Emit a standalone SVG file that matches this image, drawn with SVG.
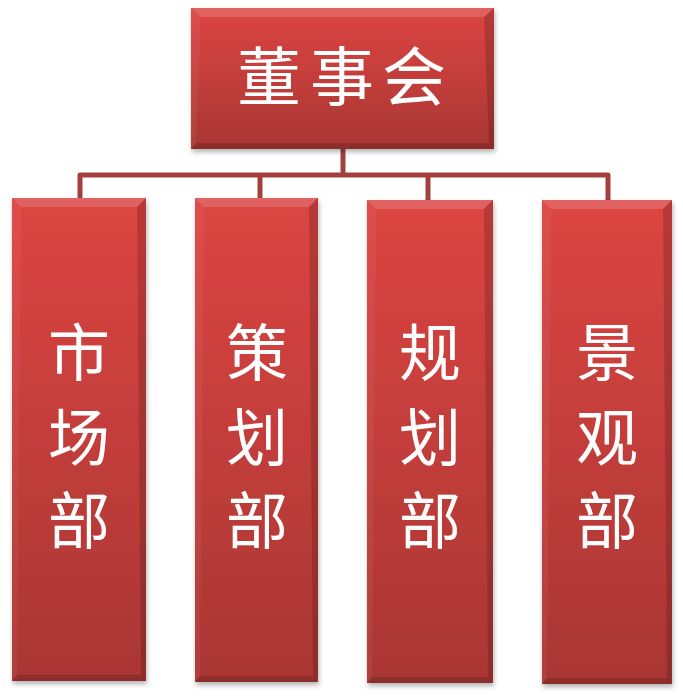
<svg xmlns="http://www.w3.org/2000/svg" width="683" height="700" viewBox="0 0 683 700">
<defs>
<linearGradient id="fill" x1="0" y1="0" x2="0" y2="1">
<stop offset="0" stop-color="#dc4542"/>
<stop offset="1" stop-color="#a93633"/>
</linearGradient>
<filter id="sh" x="-10%" y="-10%" width="120%" height="120%">
<feDropShadow dx="1" dy="3" stdDeviation="2.5" flood-color="#000" flood-opacity="0.3"/>
</filter>
<style>
.conn{fill:none;stroke:#a3403e;stroke-width:5;stroke-linejoin:round}
.box{fill:url(#fill)}
.bt{fill:#ffffff;opacity:0.16}
.bl{fill:#ffffff;opacity:0.05}
.br{fill:#000000;opacity:0.16}
.bb{fill:#000000;opacity:0.16}
.lbl{font-family:"Liberation Serif","Noto Sans CJK SC",serif;fill:#ffffff;text-anchor:middle}
</style>
</defs>
<g id="connectors">
<path class="conn" d="M343,149 V175"/>
<path class="conn" d="M80,198 V175 H608 V200"/>
<path class="conn" d="M260,175 V198"/>
<path class="conn" d="M428,175 V200"/>
</g>
<g id="node-board" filter="url(#sh)">
<rect class="box" x="191" y="8" width="303" height="141"/>
<polygon class="bt" points="191,8 494,8 484,17 201,17"/>
<polygon class="bl" points="191,8 201,17 196,143 191,149"/>
<polygon class="br" points="494,8 494,149 489,143 484,17"/>
<polygon class="bb" points="191,149 494,149 489,143 196,143"/>
<text class="lbl" font-size="64" y="100"><tspan x="269">董</tspan><tspan x="342">事</tspan><tspan x="414">会</tspan></text>
</g>
<g id="node-market" filter="url(#sh)">
<rect class="box" x="12" y="198" width="134" height="483"/>
<polygon class="bt" points="12,198 146,198 137,207 21,207"/>
<polygon class="bl" points="12,198 21,207 17,675 12,681"/>
<polygon class="br" points="146,198 146,681 141,675 137,207"/>
<polygon class="bb" points="12,681 146,681 141,675 17,675"/>
<text class="lbl" font-size="62"><tspan x="79" y="376">市</tspan><tspan x="79" y="461">场</tspan><tspan x="79" y="544">部</tspan></text>
</g>
<g id="node-planning" filter="url(#sh)">
<rect class="box" x="195" y="198" width="123" height="484"/>
<polygon class="bt" points="195,198 318,198 309,207 204,207"/>
<polygon class="bl" points="195,198 204,207 200,676 195,682"/>
<polygon class="br" points="318,198 318,682 313,676 309,207"/>
<polygon class="bb" points="195,682 318,682 313,676 200,676"/>
<text class="lbl" font-size="62"><tspan x="257" y="376">策</tspan><tspan x="257" y="461">划</tspan><tspan x="257" y="544">部</tspan></text>
</g>
<g id="node-design" filter="url(#sh)">
<rect class="box" x="367" y="200" width="126" height="483"/>
<polygon class="bt" points="367,200 493,200 484,209 376,209"/>
<polygon class="bl" points="367,200 376,209 372,677 367,683"/>
<polygon class="br" points="493,200 493,683 488,677 484,209"/>
<polygon class="bb" points="367,683 493,683 488,677 372,677"/>
<text class="lbl" font-size="62"><tspan x="430" y="376">规</tspan><tspan x="430" y="461">划</tspan><tspan x="430" y="544">部</tspan></text>
</g>
<g id="node-landscape" filter="url(#sh)">
<rect class="box" x="542" y="200" width="130" height="484"/>
<polygon class="bt" points="542,200 672,200 663,209 551,209"/>
<polygon class="bl" points="542,200 551,209 547,678 542,684"/>
<polygon class="br" points="672,200 672,684 667,678 663,209"/>
<polygon class="bb" points="542,684 672,684 667,678 547,678"/>
<text class="lbl" font-size="62"><tspan x="607" y="376">景</tspan><tspan x="607" y="461">观</tspan><tspan x="607" y="544">部</tspan></text>
</g>
</svg>
